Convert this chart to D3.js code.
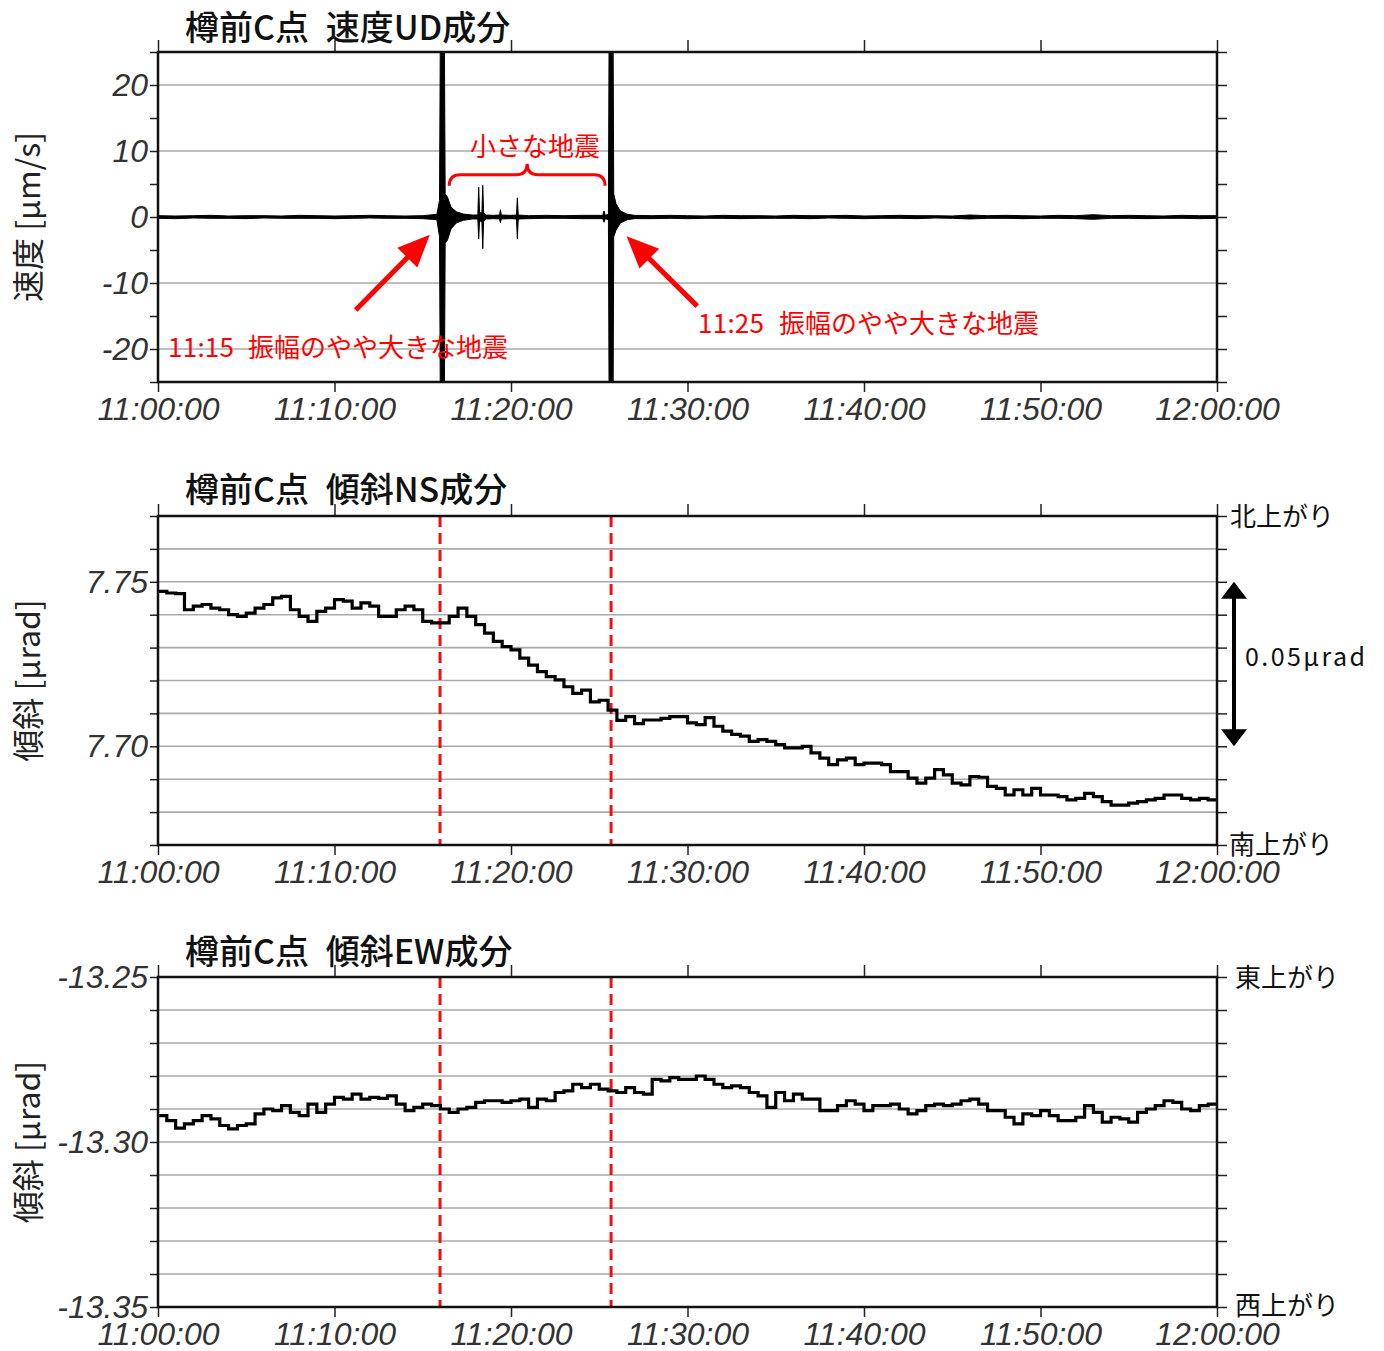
<!DOCTYPE html>
<meta charset="utf-8">
<style>
    body { margin: 0; background: #fff; }
    svg { font-family: "Noto Sans CJK JP", sans-serif; }
    .axis text {
        font-family: "Liberation Sans", Arial, sans-serif;
        font-style: italic;
        font-size: 32px;
        fill: #333;
    }
    .axis line { stroke: #222; stroke-width: 1.5; }
    .axis path { display: none; }
    .grid { stroke: #aaa; stroke-width: 1.6; }
    .frame { fill: none; stroke: #111; stroke-width: 2.5; }
    .title { font-size: 34px; font-weight: 500; fill: #111; }
    .ylab { font-size: 32px; fill: #222; }
    .side { font-size: 26px; fill: #111; }
    .note { font-size: 26px; fill: #ff0000; }
</style>
<svg width="1384" height="1351"></svg>
<script src="https://d3js.org/d3.v7.min.js"></script>
<script>

    // ---- data (minutes after 11:00:00) ----
    var xTickMinutes = [0, 10, 20, 30, 40, 50, 60];
    var eventMinutes = [15.98, 25.67];

    // velocity UD: envelope of the trace (upper / lower, um/s)
    var udTime  = [0, 1, 2, 3, 4, 5, 6, 7, 8, 9, 10, 11, 12, 13, 14, 15, 15.8, 15.95, 16.0, 16.22, 16.27, 16.4, 16.6, 16.9, 17.3, 17.8,
                   18.12, 18.17, 18.22, 18.35, 18.4, 18.45, 18.6, 19, 19.35, 19.4, 19.45, 20, 20.31, 20.36, 20.41, 21, 22, 23, 24,
                   25.2, 25.27, 25.34, 25.52, 25.56, 25.78, 25.82, 25.95, 26.2, 26.6, 27, 28, 29, 30, 31, 32, 33, 34, 35, 36, 37, 38,
                   39, 40, 41, 42, 43, 44, 45, 46, 47, 48, 49, 50, 51, 52, 53, 54, 55, 56, 57, 58, 59, 60];
    var udUpper = [0.2, 0.15, 0.2, 0.25, 0.15, 0.2, 0.2, 0.15, 0.25, 0.2, 0.15, 0.2, 0.25, 0.2, 0.15, 0.2, 0.4, 2.5, 30, 30, 3.5, 3, 1.5, 0.8, 0.45, 0.3,
                   0.3, 4.5, 0.6, 0.7, 4.8, 0.6, 0.3, 0.25, 0.3, 1.1, 0.3, 0.25, 0.3, 2.9, 0.3, 0.2, 0.25, 0.2, 0.25,
                   0.25, 0.9, 0.25, 0.4, 30, 30, 3.5, 2, 0.9, 0.4, 0.25, 0.2, 0.25, 0.2, 0.15, 0.25, 0.2, 0.2, 0.15, 0.25, 0.2, 0.2,
                   0.25, 0.15, 0.2, 0.25, 0.2, 0.2, 0.15, 0.3, 0.2, 0.25, 0.2, 0.15, 0.25, 0.2, 0.35, 0.2, 0.25, 0.2, 0.15, 0.25, 0.2, 0.2];
    var udLower = [-0.2, -0.25, -0.15, -0.2, -0.2, -0.25, -0.15, -0.2, -0.2, -0.2, -0.25, -0.2, -0.15, -0.2, -0.2, -0.25, -0.4, -3, -30, -30, -4, -3.5, -1.8, -0.9, -0.5, -0.3,
                   -0.3, -3.3, -0.6, -0.7, -4.8, -0.6, -0.3, -0.25, -0.3, -0.9, -0.3, -0.25, -0.3, -3.3, -0.3, -0.25, -0.2, -0.2, -0.25,
                   -0.25, -0.8, -0.25, -0.4, -30, -30, -3, -2, -0.9, -0.4, -0.25, -0.25, -0.2, -0.25, -0.2, -0.2, -0.25, -0.2, -0.2, -0.2, -0.25, -0.15,
                   -0.2, -0.25, -0.2, -0.2, -0.25, -0.15, -0.2, -0.3, -0.2, -0.2, -0.25, -0.2, -0.2, -0.25, -0.35, -0.2, -0.2, -0.25, -0.2, -0.2, -0.25, -0.2];

    // tilt, one value every 0.5 min (urad)
    var tiltTime = d3.range(0, 60.01, 0.5);
    var nsTilt = [7.7471, 7.7466, 7.7464, 7.7415, 7.7426, 7.7431, 7.7420, 7.7415, 7.7400, 7.7395,
                  7.7405, 7.7420, 7.7431, 7.7451, 7.7456, 7.7415, 7.7395, 7.7380, 7.7410, 7.7420,
                  7.7446, 7.7441, 7.7420, 7.7436, 7.7426, 7.7395, 7.7395, 7.7415, 7.7426, 7.7415,
                  7.7380, 7.7375, 7.7375, 7.7395, 7.7420, 7.7395, 7.7370, 7.7344, 7.7319, 7.7303,
                  7.7293, 7.7268, 7.7247, 7.7227, 7.7212, 7.7202, 7.7181, 7.7161, 7.7171, 7.7135,
                  7.7140, 7.7110, 7.7079, 7.7090, 7.7069, 7.7080, 7.7080, 7.7085, 7.7090, 7.7090,
                  7.7071, 7.7066, 7.7087, 7.7061, 7.7046, 7.7036, 7.7031, 7.7015, 7.7020, 7.7015,
                  7.7005, 7.6995, 7.6995, 7.7000, 7.6980, 7.6964, 7.6944, 7.6959, 7.6964, 7.6944,
                  7.6949, 7.6949, 7.6944, 7.6923, 7.6923, 7.6903, 7.6888, 7.6903, 7.6929, 7.6913,
                  7.6888, 7.6883, 7.6908, 7.6906, 7.6878, 7.6872, 7.6852, 7.6868, 7.6852, 7.6872,
                  7.6852, 7.6852, 7.6847, 7.6837, 7.6842, 7.6857, 7.6847, 7.6832, 7.6821, 7.6821,
                  7.6827, 7.6832, 7.6837, 7.6842, 7.6852, 7.6852, 7.6842, 7.6837, 7.6842, 7.6837,
                  7.6837];
    var ewTilt = [-13.2920, -13.2935, -13.2958, -13.2945, -13.2935, -13.2920, -13.2930, -13.2950, -13.2960, -13.2950,
                  -13.2945, -13.2915, -13.2900, -13.2905, -13.2890, -13.2910, -13.2920, -13.2885, -13.2910, -13.2885,
                  -13.2865, -13.2870, -13.2855, -13.2870, -13.2865, -13.2868, -13.2860, -13.2885, -13.2905, -13.2895,
                  -13.2885, -13.2890, -13.2900, -13.2910, -13.2900, -13.2895, -13.2880, -13.2875, -13.2875, -13.2880,
                  -13.2875, -13.2870, -13.2895, -13.2870, -13.2875, -13.2850, -13.2845, -13.2825, -13.2835, -13.2825,
                  -13.2840, -13.2845, -13.2850, -13.2835, -13.2850, -13.2855, -13.2810, -13.2815, -13.2805, -13.2810,
                  -13.2810, -13.2800, -13.2810, -13.2825, -13.2835, -13.2830, -13.2835, -13.2850, -13.2860, -13.2895,
                  -13.2850, -13.2875, -13.2855, -13.2870, -13.2870, -13.2905, -13.2905, -13.2890, -13.2875, -13.2885,
                  -13.2905, -13.2890, -13.2890, -13.2885, -13.2900, -13.2915, -13.2905, -13.2890, -13.2885, -13.2890,
                  -13.2885, -13.2875, -13.2870, -13.2885, -13.2905, -13.2905, -13.2925, -13.2945, -13.2915, -13.2920,
                  -13.2905, -13.2920, -13.2935, -13.2935, -13.2925, -13.2890, -13.2910, -13.2940, -13.2925, -13.2930,
                  -13.2940, -13.2910, -13.2900, -13.2890, -13.2875, -13.2880, -13.2900, -13.2905, -13.2890, -13.2885,
                  -13.2890];

    var udLabels = [-20, -10, 0, 10, 20];
    var nsLabels = [7.70, 7.75];
    var ewLabels = [-13.35, -13.30, -13.25];

    // ---- layout ----
    var svg = d3.select("svg");
    var left = 158, right = 1217;
    var t0 = new Date(2000, 0, 1, 11, 0, 0);
    function at(m) { return new Date(t0.getTime() + m * 60000); }

    var x = d3.scaleTime().domain([at(0), at(60)]).range([left, right]);
    var timeFmt = d3.timeFormat("%H:%M:%S");

    var panels = [
        {top: 52, bottom: 382, domain: [-25, 25], ticks: d3.range(-25, 25.1, 5), grid: [-20, -10, 0, 10, 20],
         labels: udLabels, dec: 0, title: ["樽前C点", "速度UD成分"], ylab: "速度 [μm/s]", titleY: 40},
        {top: 516, bottom: 845, domain: [7.67, 7.77], ticks: d3.range(7.67, 7.7701, 0.01), grid: d3.range(7.68, 7.7601, 0.01),
         labels: nsLabels, dec: 2, title: ["樽前C点", "傾斜NS成分"], ylab: "傾斜 [μrad]", titleY: 502},
        {top: 977, bottom: 1307, domain: [-13.35, -13.25], ticks: d3.range(-13.35, -13.2499, 0.01), grid: d3.range(-13.34, -13.2599, 0.01),
         labels: ewLabels, dec: 2, title: ["樽前C点", "傾斜EW成分"], ylab: "傾斜 [μrad]", titleY: 964}
    ];

    panels.forEach(function (p, i) {
        var y = d3.scaleLinear().domain(p.domain).range([p.bottom, p.top]);
        p.y = y;
        var g = svg.append("g");

        g.append("clipPath").attr("id", "clip" + i)
            .append("rect").attr("x", left).attr("y", p.top)
            .attr("width", right - left).attr("height", p.bottom - p.top);

        g.selectAll(".grid").data(p.grid).enter().append("line")
            .attr("class", "grid")
            .attr("x1", left).attr("x2", right)
            .attr("y1", y).attr("y2", y);

        var lbl = p.labels.map(function (v) { return v.toFixed(p.dec); });
        g.append("g").attr("class", "axis")
            .attr("transform", "translate(" + left + ",0)")
            .call(d3.axisLeft(y).tickValues(p.ticks).tickSize(8).tickPadding(2)
                .tickFormat(function (d) {
                    var s = d.toFixed(p.dec);
                    return lbl.indexOf(s) >= 0 ? s : "";
                }));

        g.append("g").attr("class", "axis")
            .attr("transform", "translate(" + right + ",0)")
            .call(d3.axisRight(y).tickValues(p.ticks).tickSize(10).tickFormat(""));

        g.append("g").attr("class", "axis")
            .attr("transform", "translate(0," + p.top + ")")
            .call(d3.axisTop(x).tickValues(xTickMinutes.map(at)).tickSize(12).tickFormat(""));

        g.append("g").attr("class", "axis")
            .attr("transform", "translate(0," + p.bottom + ")")
            .call(d3.axisBottom(x).tickValues(xTickMinutes.map(at)).tickSize(10).tickPadding(5).tickFormat(timeFmt));

        var tt = g.append("text").attr("class", "title").attr("y", p.titleY);
        tt.append("tspan").attr("x", 185).text(p.title[0]);
        tt.append("tspan").attr("x", 327).text(" " + p.title[1]).attr("dx", -9);

        g.append("text").attr("class", "ylab")
            .attr("transform", "translate(40," + (p.top + p.bottom) / 2 + ") rotate(-90)")
            .attr("text-anchor", "middle").text(p.ylab);

        p.g = g;
    });

    // ---- UD velocity trace ----
    var ud = panels[0];
    var udData = d3.zip(udTime, udUpper, udLower);
    ud.g.append("path")
        .datum(udData)
        .attr("clip-path", "url(#clip0)")
        .attr("fill", "#000").attr("stroke", "#000").attr("stroke-width", 1)
        .attr("d", d3.area()
            .x(function (d) { return x(at(d[0])); })
            .y0(function (d) { return ud.y(d[2]); })
            .y1(function (d) { return ud.y(d[1]); }));

    // ---- tilt traces ----
    [[panels[1], nsTilt, 1], [panels[2], ewTilt, 2]].forEach(function (s) {
        var p = s[0];
        p.g.selectAll(".ev").data(eventMinutes).enter().append("line")
            .attr("x1", function (d) { return x(at(d)); })
            .attr("x2", function (d) { return x(at(d)); })
            .attr("y1", p.top).attr("y2", p.bottom)
            .attr("stroke", "#f01010").attr("stroke-width", 3)
            .attr("stroke-dasharray", "11,6");
        p.g.append("path")
            .datum(d3.zip(tiltTime, s[1]))
            .attr("clip-path", "url(#clip" + s[2] + ")")
            .attr("fill", "none").attr("stroke", "#000").attr("stroke-width", 3.2)
            .attr("d", d3.line()
                .curve(d3.curveStepAfter)
                .x(function (d) { return x(at(d[0])); })
                .y(function (d) { return p.y(d[1]); }));
    });

    // frames on top
    panels.forEach(function (p) {
        p.g.append("rect").attr("class", "frame")
            .attr("x", left).attr("y", p.top)
            .attr("width", right - left).attr("height", p.bottom - p.top);
    });

    // ---- red annotations in UD panel ----
    function arrow(g, x1, y1, x2, y2, color, w, headL, headW, both) {
        var dx = x2 - x1, dy = y2 - y1, len = Math.sqrt(dx * dx + dy * dy);
        var ux = dx / len, uy = dy / len;
        function head(tx, ty, sx, sy) {
            var bx = tx - sx * headL, by = ty - sy * headL;
            g.append("polygon").attr("fill", color)
                .attr("points", [[tx, ty], [bx - sy * headW / 2, by + sx * headW / 2], [bx + sy * headW / 2, by - sx * headW / 2]].join(" "));
        }
        g.append("line")
            .attr("x1", both ? x1 + ux * headL * 0.8 : x1).attr("y1", both ? y1 + uy * headL * 0.8 : y1)
            .attr("x2", x2 - ux * headL * 0.8).attr("y2", y2 - uy * headL * 0.8)
            .attr("stroke", color).attr("stroke-width", w);
        head(x2, y2, ux, uy);
        if (both) head(x1, y1, -ux, -uy);
    }

    var ann = svg.append("g");
    arrow(ann, x(at(11.2)), ud.y(-14.1), x(at(15.4)), ud.y(-2.7), "#ff0000", 5, 32, 28);
    arrow(ann, x(at(30.55)), ud.y(-13.5), x(at(26.55)), ud.y(-2.9), "#ff0000", 5, 32, 28);

    var bxL = x(at(16.5)), bxR = x(at(25.33)), bxM = (bxL + bxR) / 2, byT = ud.y(6.4);
    ann.append("path")
        .attr("fill", "none").attr("stroke", "#ff0000").attr("stroke-width", 3)
        .attr("d", "M" + bxL + "," + (byT + 11) + " Q" + bxL + "," + byT + " " + (bxL + 11) + "," + byT +
            " L" + (bxM - 11) + "," + byT + " Q" + bxM + "," + byT + " " + bxM + "," + (byT - 11) +
            " Q" + bxM + "," + byT + " " + (bxM + 11) + "," + byT +
            " L" + (bxR - 11) + "," + byT + " Q" + bxR + "," + byT + " " + bxR + "," + (byT + 11));

    ann.append("text").attr("class", "note").attr("x", 535).attr("y", 156)
        .attr("text-anchor", "middle").text("小さな地震");

    var n1 = ann.append("text").attr("class", "note").attr("y", 357);
    n1.append("tspan").attr("x", 168).attr("textLength", 66).attr("lengthAdjust", "spacing").text("11:15");
    n1.append("tspan").attr("x", 248).text("振幅のやや大きな地震");
    var n2 = ann.append("text").attr("class", "note").attr("y", 333);
    n2.append("tspan").attr("x", 698).attr("textLength", 66).attr("lengthAdjust", "spacing").text("11:25");
    n2.append("tspan").attr("x", 779).text("振幅のやや大きな地震");

    // ---- side labels ----
    var ns = panels[1], ew = panels[2];
    svg.append("text").attr("class", "side").attr("x", 1230).attr("y", ns.top + 10).text("北上がり");
    svg.append("text").attr("class", "side").attr("x", 1229).attr("y", ns.bottom + 9).text("南上がり");
    svg.append("text").attr("class", "side").attr("x", 1235).attr("y", ew.top + 10).text("東上がり");
    svg.append("text").attr("class", "side").attr("x", 1235).attr("y", ew.bottom + 8).text("西上がり");

    arrow(svg, 1234, ns.y(7.75), 1234, ns.y(7.70), "#000", 4, 17, 26, true);
    svg.append("text").attr("class", "side").attr("x", 1245).attr("y", (ns.y(7.75) + ns.y(7.70)) / 2 + 2)
        .attr("textLength", 120).attr("lengthAdjust", "spacing")
        .style("font-size", "25px").text("0.05μrad");

</script>
